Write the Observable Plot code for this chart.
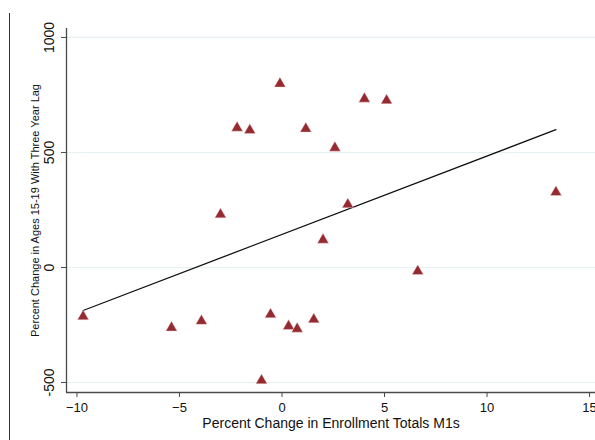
<!DOCTYPE html>
<html>
<head>
<meta charset="utf-8">
<script src="https://cdn.jsdelivr.net/npm/d3@7"></script>
<script src="https://cdn.jsdelivr.net/npm/@observablehq/plot@0.6"></script>
<style>
  html, body { margin: 0; padding: 0; background: #fff; }
  #wrap { position: relative; width: 595px; height: 440px; overflow: hidden; }
  #border { position: absolute; left: 9px; top: 13px; width: 1px; height: 427px; background: #333; }
  #chart { position: absolute; left: 0; top: 0; }
</style>
</head>
<body>
<div id="wrap"><div id="border"></div><div id="chart"></div></div>
<script>
// Percent change in enrollment totals M1s (x) vs percent change in ages 15-19 with three year lag (y)
const enrollChange = [-9.70, -5.39, -3.93, -3.00, -2.19, -1.57, -1.00, -0.56, -0.10, 0.32,
                      0.74, 1.16, 1.55, 2.00, 2.58, 3.21, 4.02, 5.10, 6.62, 13.36];
const agesChange   = [-213, -262, -233, 230, 607, 597, -491, -204, 799, -255,
                      -267, 603, -226, 120, 520, 274, 733, 726, -16, 327];
// fitted line end points (as drawn in the reference)
const fitX = [-9.70, 13.36];
const fitY = [-187, 599];
const xTicks = [-10, -5, 0, 5, 10, 15];
const yTicks = [-500, 0, 500, 1000];
const xTitle = "Percent Change in Enrollment Totals M1s";
const yTitle = "Percent Change in Ages 15-19 With Three Year Lag";

const points = enrollChange.map((x, i) => ({x, y: agesChange[i]}));
const fit = fitX.map((x, i) => ({x, y: fitY[i]}));

const xDomain = [-10.51, 15.29];
const yDomain = [-543.5, 1039];
const font = "Liberation Sans, Arial, Helvetica, sans-serif";
const axisColor = "#4a4a4a";

const plot = Plot.plot({
  width: 595,
  height: 440,
  marginLeft: 66,
  marginRight: 0,
  marginTop: 28,
  marginBottom: 48,
  style: {fontFamily: font, background: "transparent", overflow: "visible"},
  x: {domain: xDomain, axis: null},
  y: {domain: yDomain, axis: null},
  marks: [
    Plot.ruleY(yTicks, {stroke: "#e6eff1", strokeWidth: 1.2}),
    // axis lines
    Plot.ruleX([xDomain[0]], {stroke: axisColor, strokeWidth: 1.3}),
    Plot.ruleY([yDomain[0]], {stroke: axisColor, strokeWidth: 1.3}),
    // y tick marks (labels drawn rotated below)
    Plot.axisY({ticks: yTicks, tickSize: 5, tickFormat: () => "", stroke: axisColor, label: null}),
    Plot.axisX({ticks: xTicks, tickSize: 5, tickPadding: 5, fontSize: 13, stroke: axisColor, color: "#111", label: null}),
    Plot.text(yTicks, {y: d => d, frameAnchor: "left", dx: -17, rotate: -90, text: d => String(d), fontSize: 14, fill: "#111", textAnchor: "middle"}),
    Plot.text([xTitle], {frameAnchor: "bottom", dy: 35, fontSize: 14, fill: "#111", textAnchor: "middle"}),
    Plot.text([yTitle], {frameAnchor: "left", dx: -31, rotate: -90, fontSize: 11, fill: "#111", textAnchor: "middle"}),
    Plot.line(fit, {x: "x", y: "y", stroke: "#111", strokeWidth: 1.3}),
    Plot.dot(points, {x: "x", y: "y", symbol: "triangle", r: 4.2, fill: "#952a30", stroke: "#f3dede", strokeWidth: 0.4})
  ]
});

document.getElementById("chart").appendChild(plot);
</script>
</body>
</html>
